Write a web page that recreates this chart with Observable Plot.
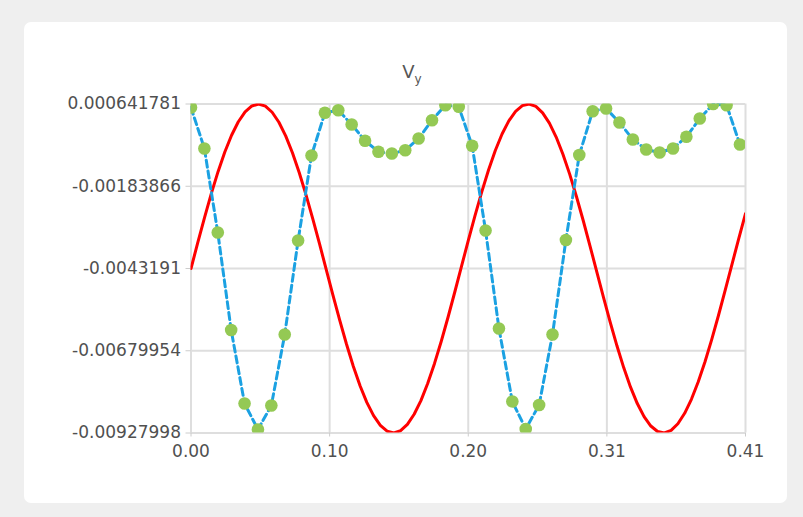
<!DOCTYPE html>
<html><head><meta charset="utf-8">
<script src="https://cdn.jsdelivr.net/npm/d3@7"></script>
<script src="https://cdn.jsdelivr.net/npm/@observablehq/plot@0.6"></script>
<style>
html,body{margin:0;padding:0;background:#efefef;}
#wrap{position:relative;width:803px;height:517px;overflow:hidden;background:#efefef;}
#panel{position:absolute;left:24px;top:22px;width:763px;height:481px;background:#fff;border-radius:7px;}
#title{position:absolute;left:0;width:824px;top:62px;text-align:center;font-family:"DejaVu Sans";font-size:18px;color:#555;line-height:20px;}
#title sub{font-size:12px;vertical-align:-5px;}
#chart{position:absolute;left:0;top:0;}
</style></head>
<body><div id="wrap"><div id="panel"></div><div id="title">V<sub>y</sub></div><div id="chart"></div></div>
<script>
// tick values & labels
const xTicks = [0, 0.1025, 0.205, 0.3075, 0.41];
const xTickLabels = ["0.00", "0.10", "0.20", "0.31", "0.41"];
const yTicks = [0.000641781, -0.00183866, -0.0043191, -0.00679954, -0.00927998];
const yTickLabels = ["0.000641781", "-0.00183866", "-0.0043191", "-0.00679954", "-0.00927998"];

// red series (time, value)
const redT = [0,0.005,0.01,0.015,0.02,0.025,0.03,0.035,0.04,0.045,0.05,0.055,0.06,0.065,0.07,0.075,0.08,0.085,0.09,0.095,0.1,0.105,0.11,0.115,0.12,0.125,0.13,0.135,0.14,0.145,0.15,0.155,0.16,0.165,0.17,0.175,0.18,0.185,0.19,0.195,0.2,0.205,0.21,0.215,0.22,0.225,0.23,0.235,0.24,0.245,0.25,0.255,0.26,0.265,0.27,0.275,0.28,0.285,0.29,0.295,0.3,0.305,0.31,0.315,0.32,0.325,0.33,0.335,0.34,0.345,0.35,0.355,0.36,0.365,0.37,0.375,0.38,0.385,0.39,0.395,0.4,0.405,0.41];
const redV = [-0.004319,-0.003542,-0.002783,-0.002062,-0.001398,-0.000806,-0.000300,0.000106,0.000403,0.000583,0.000642,0.000578,0.000393,0.000092,-0.000319,-0.000828,-0.001423,-0.002091,-0.002813,-0.003572,-0.004350,-0.005128,-0.005885,-0.006603,-0.007265,-0.007855,-0.008357,-0.008758,-0.009050,-0.009226,-0.009280,-0.009211,-0.009021,-0.008715,-0.008302,-0.007789,-0.007189,-0.006520,-0.005796,-0.005035,-0.004256,-0.003480,-0.002724,-0.002007,-0.001347,-0.000762,-0.000264,0.000134,0.000422,0.000592,0.000641,0.000568,0.000373,0.000063,-0.000355,-0.000872,-0.001473,-0.002146,-0.002872,-0.003634,-0.004412,-0.005189,-0.005943,-0.006658,-0.007315,-0.007898,-0.008392,-0.008785,-0.009069,-0.009234,-0.009279,-0.009200,-0.009001,-0.008686,-0.008264,-0.007743,-0.007138,-0.006463,-0.005736,-0.004973,-0.004194,-0.003419,-0.002665];

// blue line / green dots series (time, value)
const dotT = [0,0.0099,0.0198,0.0297,0.0396,0.0495,0.0594,0.0693,0.0792,0.0891,0.099,0.1089,0.1188,0.1287,0.1386,0.1485,0.1584,0.1683,0.1782,0.1881,0.198,0.2079,0.2178,0.2277,0.2376,0.2475,0.2574,0.2673,0.2772,0.2871,0.297,0.3069,0.3168,0.3267,0.3366,0.3465,0.3564,0.3663,0.3762,0.3861,0.396,0.4059];
const dotV = [0.000536,-0.000700,-0.003233,-0.006174,-0.008390,-0.009174,-0.008450,-0.006309,-0.003475,-0.000911,0.000376,0.000455,0.000024,-0.000468,-0.000800,-0.000851,-0.000751,-0.000399,0.000153,0.000606,0.000557,-0.000619,-0.003173,-0.006128,-0.008330,-0.009159,-0.008435,-0.006309,-0.003460,-0.000896,0.000425,0.000506,0.000084,-0.000429,-0.000730,-0.000821,-0.000700,-0.000347,0.000205,0.000640,0.000606,-0.000580];

const red = redT.map((t, i) => ({t, v: redV[i]}));
const pts = dotT.map((t, i) => ({t, v: dotV[i]}));

const textCol = "#505050";
const chart = Plot.plot({
  width: 803, height: 517,
  marginLeft: 190.5, marginRight: 58, marginTop: 103.5, marginBottom: 84.5,
  style: {background: "transparent", fontFamily: "DejaVu Sans", fontSize: "17px", color: textCol},
  x: {domain: [0, 0.41]},
  y: {domain: [yTicks[4], yTicks[0]]},
  marks: [
    Plot.gridX(xTicks, {stroke: "#dedede", strokeOpacity: 1, strokeWidth: 2}),
    Plot.gridY(yTicks, {stroke: "#dedede", strokeOpacity: 1, strokeWidth: 2}),
    Plot.axisX(xTicks, {label: null, tickSize: 4, tickPadding: 8, stroke: "#cccccc", fill: textCol, fontSize: 17,
      tickFormat: d => xTickLabels[xTicks.indexOf(d)]}),
    Plot.axisY(yTicks, {label: null, tickSize: 5, tickPadding: 5, stroke: "#cccccc", fill: textCol, fontSize: 17,
      tickFormat: d => yTickLabels[yTicks.indexOf(d)]}),
    Plot.line(red, {x: "t", y: "v", stroke: "#ff0000", strokeWidth: 3, clip: true}),
    Plot.line(pts, {x: "t", y: "v", stroke: "#1ba1e2", strokeWidth: 3, strokeDasharray: "7,4", clip: true}),
    Plot.dot(pts, {x: "t", y: "v", r: 6.3, fill: "#94c954", stroke: "none", clip: true})
  ]
});
document.getElementById("chart").appendChild(chart);
</script>
</body></html>
